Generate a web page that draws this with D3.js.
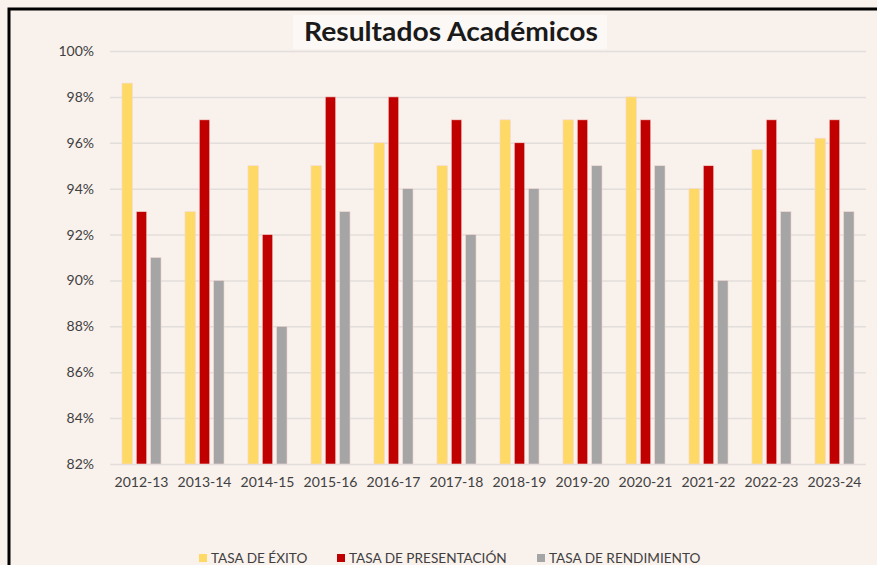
<!DOCTYPE html>
<html>
<head>
<meta charset="utf-8">
<script src="https://cdn.jsdelivr.net/npm/d3@7"></script>
<style>
  body { margin: 0; background: #f9f1ec; }
  svg { display: block; }
  text { font-family: Lato, "Open Sans", sans-serif; fill: #404040; }
</style>
</head>
<body>
<div id="chart"></div>
<script>
// academic years
var years = ["2012-13", "2013-14", "2014-15", "2015-16", "2016-17", "2017-18",
             "2018-19", "2019-20", "2020-21", "2021-22", "2022-23", "2023-24"];

// rates in %
var tasaExito        = [98.6, 93, 95, 95, 96, 95, 97, 97, 98, 94, 95.7, 96.2];
var tasaPresentacion = [93, 97, 92, 98, 98, 97, 96, 97, 97, 95, 97, 97];
var tasaRendimiento  = [91, 90, 88, 93, 94, 92, 94, 95, 95, 90, 93, 93];

var seriesNames = ["TASA DE ÉXITO", "TASA DE PRESENTACIÓN", "TASA DE RENDIMIENTO"];
var yTicks = [82, 84, 86, 88, 90, 92, 94, 96, 98, 100];

var colors = ["#FFD966", "#C00000", "#A5A5A5"];
var seriesValues = [tasaExito, tasaPresentacion, tasaRendimiento];

var totalWidth = 877, totalHeight = 565;
var margin = { top: 51, right: 11, bottom: 101, left: 110 };
var width = totalWidth - margin.left - margin.right;
var height = totalHeight - margin.top - margin.bottom;

var svg = d3.select('#chart').append('svg')
    .attr('width', totalWidth)
    .attr('height', totalHeight);

svg.append('rect').attr('width', totalWidth).attr('height', totalHeight).attr('fill', '#f9f1ec');

// chart frame (only top and left edges visible)
svg.append('path')
    .attr('d', 'M9,' + totalHeight + 'V9H' + totalWidth)
    .attr('fill', 'none')
    .attr('stroke', '#000')
    .attr('stroke-width', 3);

var g = svg.append('g').attr('transform', 'translate(' + margin.left + ',' + margin.top + ')');

var yScale = d3.scaleLinear().domain([82, 100]).range([height, 0]);

var xScale = d3.scaleBand().domain(years).range([0, width]).paddingInner(0.38).paddingOuter(0.19);
var xInner = d3.scaleBand().domain([0, 1, 2]).range([0, xScale.bandwidth()]).paddingInner(0.27);

// gridlines
var yAxis = d3.axisLeft(yScale).tickValues(yTicks).tickSize(-width).tickPadding(16)
    .tickFormat(function(d) { return d + '%'; });
var yAxisGroup = g.append('g').call(yAxis);
yAxisGroup.select('.domain').remove();
yAxisGroup.selectAll('line').attr('stroke', '#e2dedb').attr('stroke-width', 1.5);
yAxisGroup.selectAll('text').attr('font-size', 14).attr('fill', '#404040')
    .style('font-family', 'Lato, sans-serif');

// bars
var groups = g.selectAll('.year')
    .data(years)
    .enter()
    .append('g')
    .attr('class', 'year')
    .attr('transform', function(d) { return 'translate(' + xScale(d) + ',0)'; });

groups.selectAll('rect')
    .data(function(d, i) { return seriesValues.map(function(s, k) { return { k: k, v: s[i] }; }); })
    .enter()
    .append('rect')
    .attr('x', function(d) { return xInner(d.k); })
    .attr('y', function(d) { return yScale(d.v); })
    .attr('width', xInner.bandwidth())
    .attr('height', function(d) { return height - yScale(d.v); })
    .attr('fill', function(d) { return colors[d.k]; })
    .attr('stroke', '#f3d9d4')
    .attr('stroke-width', 0.6);

// x axis
var xAxis = d3.axisBottom(xScale).tickSize(0).tickPadding(13);
var xAxisGroup = g.append('g').attr('transform', 'translate(0,' + height + ')').call(xAxis);
xAxisGroup.select('.domain').remove();
xAxisGroup.selectAll('text').attr('font-size', 14).attr('fill', '#404040')
    .style('font-family', 'Lato, sans-serif');

// title
svg.append('rect').attr('x', 293).attr('y', 15).attr('width', 314).attr('height', 34).attr('fill', '#fcf8f6');
svg.append('text')
    .attr('x', 451).attr('y', 41)
    .attr('text-anchor', 'middle')
    .attr('font-size', 26)
    .attr('font-weight', 'bold')
    .attr('textLength', 294)
    .attr('lengthAdjust', 'spacingAndGlyphs')
    .style('fill', '#1a1a1a')
    .text('Resultados Académicos');

// legend
var legendX = [199, 337, 537];
var legend = svg.selectAll('.legend')
    .data(seriesNames)
    .enter()
    .append('g')
    .attr('class', 'legend')
    .attr('transform', function(d, i) { return 'translate(' + legendX[i] + ',558)'; });
legend.append('rect').attr('x', 0).attr('y', -4).attr('width', 8).attr('height', 8)
    .attr('fill', function(d, i) { return colors[i]; });
legend.append('text').attr('x', 12).attr('y', 5).attr('font-size', 13.6).text(function(d) { return d; });
</script>
</body>
</html>
